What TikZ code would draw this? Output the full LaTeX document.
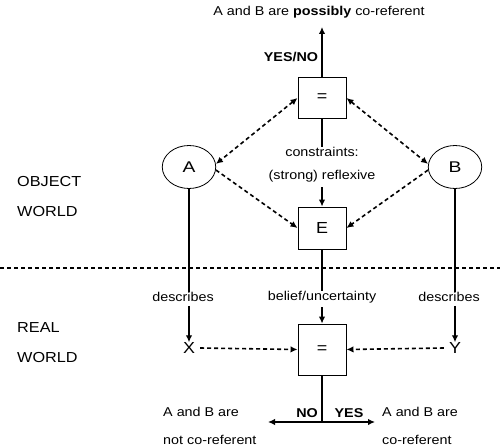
\documentclass[tikz,border=0pt]{standalone}
\usepackage{fontspec}
\setmainfont{Liberation Sans}
\usetikzlibrary{arrows.meta}
\tikzset{every node/.style={font=\fontsize{12.8}{14}\selectfont, inner sep=0pt, xscale=1.12},
         eqbox/.style={draw, line width=0.8pt, minimum width=42.9pt, minimum height=41pt,
                       font=\fontsize{16}{18}\selectfont},
         obj/.style={draw, circle, line width=0.8pt, minimum size=43pt, xscale=1.11,
                     font=\fontsize{15.5}{17}\selectfont},
         ref/.style={font=\fontsize{16}{18}\selectfont},
         world/.style={anchor=west, font=\fontsize{14.5}{16}\selectfont},
         wire/.style={draw, line width=2pt},
         link/.style={draw, line width=1.6pt, dash pattern=on 4pt off 3pt},
         >={Latex[length=7pt,width=6.5pt]}}

\begin{document}
\begin{tikzpicture}[x=1pt, y=-1pt]
  \useasboundingbox (0,0) rectangle (500,446);

  % object world
  \node (top) at (319,12) {A and B are \textbf{possibly} co-referent};
  \coordinate (out) at (322,27);
  \node (yesno) at (291,57) {\textbf{YES/NO}};
  \node[eqbox] (eq) at (322,98) {=};
  \node (cons) at (322,152) {constraints:};
  \node (refl) at (322,176) {(strong) reflexive};
  \node[eqbox, minimum height=42pt] (E) at (322,228) {E};
  \node[obj] (A) at (189,167) {A};
  \node[obj] (B) at (455,167) {B};
  \node[world] (obj1) at (17,182) {OBJECT};
  \node[world] (obj2) at (17,212) {WORLD};

  % divider
  \coordinate (divL) at (0,268);
  \coordinate (divR) at (500,268);
  \draw[link] (divL) -- (divR);

  % real world
  \node[world] (real1) at (17,328) {REAL};
  \node[world] (real2) at (17,358) {WORLD};
  \node (descA) at (183,297) {describes};
  \node (descB) at (449,297) {describes};
  \node (belief) at (322,297) {belief/uncertainty};
  \node[ref] (X) at (189,348) {X};
  \node[ref] (Y) at (455,348) {Y};
  \node[eqbox, minimum height=51pt] (eq2) at (322,349.5) {=};
  \coordinate (split) at (322,422);
  \coordinate (no) at (268,422);
  \coordinate (yes) at (375,422);
  \node (nolbl) at (307,413) {\textbf{NO}};
  \node (yeslbl) at (349,413) {\textbf{YES}};
  \node[anchor=base west] (notco1) at (163,416) {A and B are};
  \node[anchor=base west] (notco2) at (163,444) {not co-referent};
  \node[anchor=base west] (co1) at (382,416) {A and B are};
  \node[anchor=base west] (co2) at (382,444) {co-referent};

  % connectors
  \draw[wire, ->] (eq.north) -- (out);
  \draw[wire] (eq.south) -- (eq.south |- cons.north);
  \draw[wire, ->] (E.north |- refl.south) ++(0,5) -- (E.north);
  \draw[link, <->] (eq.west) -- (A.8);
  \draw[link, <->] (eq.east) -- (B.172);
  \draw[link, ->] (A.-8) -- (E.west);
  \draw[link, ->] (B.-172) -- (E.east);
  \draw[wire] (A.south) -- (A.south |- descA.north);
  \draw[wire, ->] (A.south |- descA.south) ++(0,4) -- (X.north);
  \draw[wire] (B.south) -- (B.south |- descB.north);
  \draw[wire, ->] (B.south |- descB.south) ++(0,4) -- (Y.north);
  \draw[wire] (E.south) -- (belief.north);
  \draw[wire, ->] (belief.south) ++(0,4) -- (eq2.north);
  \draw[link, ->] (X.east) ++(5,0) -- (eq2.west);
  \draw[link, ->] (Y.west) ++(-5,0) -- (eq2.east);
  \draw[wire] (eq2.south) -- (split);
  \draw[wire, ->] (split) -- (no);
  \draw[wire, ->] (split) -- (yes);
\end{tikzpicture}
\end{document}
